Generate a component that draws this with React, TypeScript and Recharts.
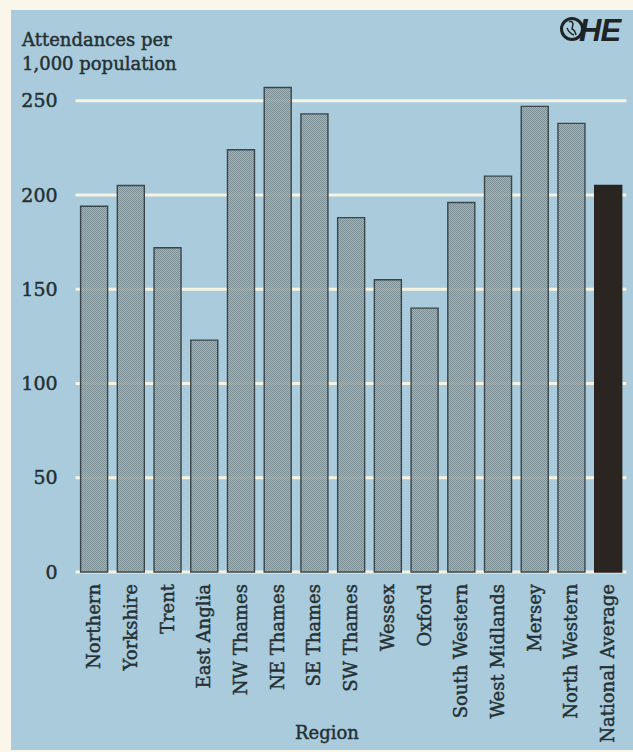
import React from 'react';
import { BarChart, Bar, XAxis, YAxis, CartesianGrid, Cell } from 'recharts';

// Accident & emergency attendances per 1,000 population, by health region
const regions = [
  'Northern',
  'Yorkshire',
  'Trent',
  'East Anglia',
  'NW Thames',
  'NE Thames',
  'SE Thames',
  'SW Thames',
  'Wessex',
  'Oxford',
  'South Western',
  'West Midlands',
  'Mersey',
  'North Western',
  'National Average',
];
const attendances = [194, 205, 172, 123, 224, 257, 243, 188, 155, 140, 196, 210, 247, 238, 205];
const yTicks = [0, 50, 100, 150, 200, 250];
const titleLines = ['Attendances per', '1,000 population'];
const xAxisTitle = 'Region';
const averageLabel = 'National Average';

const data = regions.map((region, i) => ({ region, value: attendances[i] }));

const W = 633;
const H = 752;
const FONT = '"DejaVu Serif", serif';
const INK = '#243033';
const PANEL = '#a9cbdc';
const PAGE = '#faf7ea';
const GRID = '#f6f3e2';
const HEAVY = { stroke: INK, strokeWidth: 0.45 };

const RegionTick = (props: any) => {
  const { x, y, payload } = props;
  const ax = x;
  const ay = y + 12;
  return (
    <text
      x={ax}
      y={ay}
      dy="0.34em"
      transform={`rotate(-90, ${ax}, ${ay})`}
      textAnchor="end"
      fontFamily={FONT}
      fontSize={18}
      fill={INK}
      {...HEAVY}
    >
      {payload.value}
    </text>
  );
};

export default function App() {
  return (
    <div style={{ position: 'absolute', left: 0, top: 0, width: W, height: H, background: PAGE }}>
      <svg width={W} height={H} style={{ position: 'absolute', left: 0, top: 0 }}>
        <rect x={11} y={10} width={W - 11} height={H - 12} fill={PANEL} />
        {titleLines.map((t, i) => (
          <text key={t} x={22} y={46 + i * 24} fontFamily={FONT} fontSize={18} fill={INK} {...HEAVY}>
            {t}
          </text>
        ))}
        <text x={327} y={739} textAnchor="middle" fontFamily={FONT} fontSize={18} fill={INK} {...HEAVY}>
          {xAxisTitle}
        </text>
        {/* OHE mark */}
        <g>
          <circle cx={572} cy={29} r={10.5} fill="none" stroke="#1e2324" strokeWidth={3} />
          <path d="M569 22 q3 -2 4 2 l-1 5 q3 1 4 6 M567 28 q2 5 7 7" fill="none" stroke="#1e2324" strokeWidth={1.4} />
          <text
            x={579}
            y={41}
            fontFamily='"Liberation Sans", Arial, sans-serif'
            fontStyle="italic"
            fontWeight={700}
            fontSize={31}
            letterSpacing={-1}
            fill="#1e2324"
          >
            HE
          </text>
        </g>
      </svg>
      <div style={{ position: 'absolute', left: 0, top: 0 }}>
        <BarChart
          width={W}
          height={H}
          data={data}
          margin={{ top: 53.6, right: 6.6, bottom: 10, left: 25.6 }}
          barSize={27}
        >
          <defs>
            <pattern id="stipple" width="2" height="2" patternUnits="userSpaceOnUse">
              <rect width="2" height="2" fill="#a3b2b5" />
              <rect width="1" height="1" fill="#748589" />
              <rect x="1" y="1" width="1" height="1" fill="#748589" />
            </pattern>
          </defs>
          <CartesianGrid
            horizontal
            vertical={false}
            horizontalValues={yTicks}
            stroke={GRID}
            strokeWidth={3}
          />
          <XAxis
            dataKey="region"
            height={170}
            interval={0}
            axisLine={false}
            tickLine={false}
            tickSize={0}
            tickMargin={0}
            tick={<RegionTick />}
          />
          <YAxis
            width={50}
            domain={[0, 275]}
            ticks={yTicks}
            axisLine={false}
            tickLine={false}
            tickSize={0}
            tickMargin={18}
            tick={{ fontFamily: FONT, fontSize: 19, fill: INK, ...HEAVY }}
          />
          <Bar dataKey="value" isAnimationActive={false} stroke="#3a454a" strokeWidth={1.4}>
            {data.map((d) => (
              <Cell
                key={d.region}
                fill={d.region === averageLabel ? '#2a2521' : 'url(#stipple)'}
                fillOpacity={d.region === averageLabel ? 1 : 0.88}
                stroke={d.region === averageLabel ? '#2a2521' : '#3a454a'}
              />
            ))}
          </Bar>
        </BarChart>
      </div>
    </div>
  );
}
